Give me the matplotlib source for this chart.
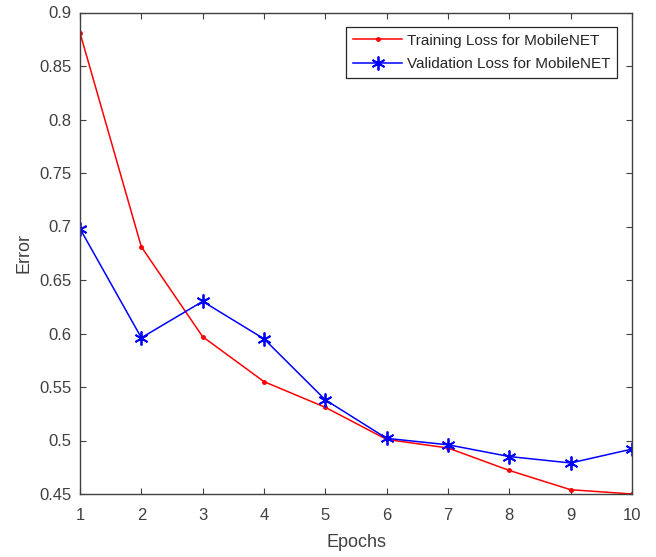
import matplotlib
matplotlib.use("Agg")
import matplotlib.pyplot as plt

epochs = [1, 2, 3, 4, 5, 6, 7, 8, 9, 10]
train_loss = [0.881, 0.681, 0.597, 0.555, 0.531, 0.501, 0.493, 0.472, 0.454, 0.450]
val_loss = [0.698, 0.596, 0.630, 0.595, 0.538, 0.502, 0.496, 0.485, 0.479, 0.492]
yticks = [0.45, 0.5, 0.55, 0.6, 0.65, 0.7, 0.75, 0.8, 0.85, 0.9]
ytick_labels = ["0.45", "0.5", "0.55", "0.6", "0.65", "0.7", "0.75", "0.8", "0.85", "0.9"]

plt.rcParams['font.family'] = ['Liberation Sans', 'DejaVu Sans']

fig = plt.figure(figsize=(6.56, 5.57), dpi=100)
ax = fig.add_axes([80/656, 63/557, 552/656, 481.5/557])

ax.plot(epochs, train_loss, color='#ff0000', marker='.', markersize=5, linewidth=1.1,
        label='Training Loss for MobileNET')
ax.plot(epochs, val_loss, color='#0000ff', marker=(6, 2, 0), markersize=10,
        markeredgewidth=1.3, linewidth=1.1,
        label='Validation Loss for MobileNET')

ax.set_xlim(1, 10)
ax.set_ylim(0.45, 0.9)
ax.set_xticks(epochs)
ax.set_yticks(yticks)
ax.set_yticklabels(ytick_labels)
ax.tick_params(direction='in', top=True, right=True, labelsize=12, colors='#404040',
               length=4, width=0.8)
ax.tick_params(axis='x', pad=10)
ax.tick_params(axis='y', pad=6)
for s in ax.spines.values():
    s.set_color('#404040')
    s.set_linewidth(1.0)

ax.set_xlabel('Epochs', fontsize=13, color='#404040', labelpad=8)
ax.set_ylabel('Error', fontsize=13, color='#404040', labelpad=5)

leg = ax.legend(loc='upper right', bbox_to_anchor=(0.9728, 0.97), borderaxespad=0,
                fontsize=11, frameon=True, fancybox=False, edgecolor='#262626',
                framealpha=1, handlelength=3.2, borderpad=0.45, labelspacing=0.6,
                handletextpad=0.3)
leg.get_frame().set_linewidth(0.9)
for t in leg.get_texts():
    t.set_color('#262626')

fig.savefig('out.png', dpi=100)
